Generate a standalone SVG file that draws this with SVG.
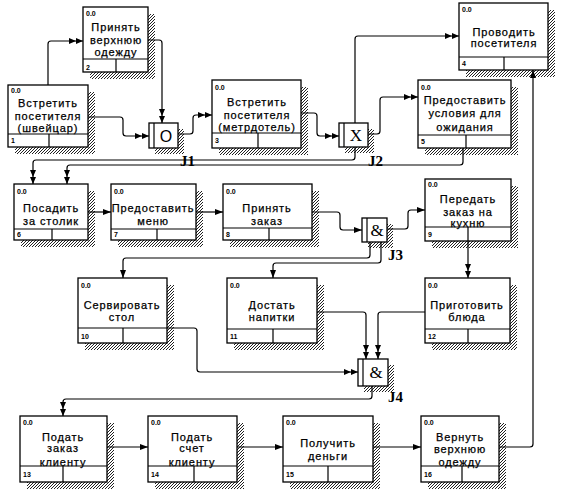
<svg xmlns="http://www.w3.org/2000/svg" width="565" height="494" viewBox="0 0 565 494">
<style>
.bx{fill:#fff;stroke:#000;stroke-width:1.3}
.sh{fill:url(#hatch)}
.ln{fill:none;stroke:#000;stroke-width:1.2}
.t{font-family:"Liberation Sans",Arial,sans-serif;font-size:11px;letter-spacing:0.9px;text-anchor:middle;fill:#000;stroke:#000;stroke-width:0.25}
.s{font-family:"Liberation Sans",Arial,sans-serif;font-size:7px;font-weight:bold;fill:#000}
.js{font-family:"Liberation Serif","Times New Roman",serif;font-size:17px;text-anchor:middle;fill:#000}
.jl{font-family:"Liberation Serif","Times New Roman",serif;font-size:15px;font-weight:bold;fill:#000}
.c{fill:none;stroke:#000;stroke-width:1.2}
</style>
<defs>
<pattern id="hatch" width="3" height="3" patternUnits="userSpaceOnUse">
<rect width="3" height="3" fill="#fff"/>
<path d="M0,3 L3,0" stroke="#222" stroke-width="1"/>
</pattern>
<marker id="a1" viewBox="0 0 8 6" refX="8" refY="3" markerWidth="8" markerHeight="6" markerUnits="userSpaceOnUse" orient="auto">
<path d="M0,0 L8,3 L0,6 z" fill="#000"/>
</marker>
<marker id="a2" viewBox="0 0 14 6" refX="14" refY="3" markerWidth="14" markerHeight="6" markerUnits="userSpaceOnUse" orient="auto">
<path d="M0,0 L7,3 L0,6 z M7,0 L14,3 L7,6 z" fill="#000"/>
</marker>
</defs>
<rect width="565" height="494" fill="#fff"/>

<g id="n1">
<rect class="sh" x="15" y="92" width="80" height="62"/>
<rect class="bx" x="8" y="85" width="80" height="62"/>
<path class="ln" d="M8,134 H88 M49,134 V147"/>
<text class="s" x="11" y="93">0.0</text>
<text class="s" x="11" y="143">1</text>
<text class="t" x="48" y="107">Встретить</text>
<text class="t" x="48" y="120">посетителя</text>
<text class="t" x="48" y="132">(швейцар)</text>
</g>

<g id="n2">
<rect class="sh" x="90" y="14" width="65" height="65"/>
<rect class="bx" x="83" y="7" width="65" height="65"/>
<path class="ln" d="M83,59 H148 M116,59 V72"/>
<text class="s" x="86" y="16">0.0</text>
<text class="s" x="86" y="70">2</text>
<text class="t" x="116" y="31">Принять</text>
<text class="t" x="116" y="44">верхнюю</text>
<text class="t" x="116" y="56">одежду</text>
</g>

<g id="n3">
<rect class="sh" x="219" y="87" width="89" height="68"/>
<rect class="bx" x="212" y="80" width="89" height="68"/>
<path class="ln" d="M212,133 H301 M258,133 V148"/>
<text class="s" x="215" y="90">0.0</text>
<text class="s" x="215" y="143">3</text>
<text class="t" x="257" y="106">Встретить</text>
<text class="t" x="257" y="119">посетителя</text>
<text class="t" x="257" y="131">(метрдотель)</text>
</g>

<g id="n4">
<rect class="sh" x="466" y="10" width="89" height="67"/>
<rect class="bx" x="459" y="3" width="89" height="67"/>
<path class="ln" d="M459,57 H548 M504,57 V70"/>
<text class="s" x="462" y="12">0.0</text>
<text class="s" x="462" y="66">4</text>
<text class="t" x="504" y="36">Проводить</text>
<text class="t" x="504" y="47">посетителя</text>
</g>

<g id="n5">
<rect class="sh" x="425" y="87" width="93" height="68"/>
<rect class="bx" x="418" y="80" width="93" height="68"/>
<path class="ln" d="M418,135 H511 M466,135 V148"/>
<text class="s" x="421" y="90">0.0</text>
<text class="s" x="421" y="144">5</text>
<text class="t" x="465" y="104">Предоставить</text>
<text class="t" x="465" y="117">условия для</text>
<text class="t" x="465" y="131">ожидания</text>
</g>

<g id="n6">
<rect class="sh" x="21" y="191" width="74" height="56"/>
<rect class="bx" x="14" y="184" width="74" height="56"/>
<path class="ln" d="M14,229 H88 M52,229 V240"/>
<text class="s" x="17" y="194">0.0</text>
<text class="s" x="17" y="237">6</text>
<text class="t" x="51" y="212">Посадить</text>
<text class="t" x="51" y="225">за столик</text>
</g>

<g id="n7">
<rect class="sh" x="118" y="191" width="85" height="56"/>
<rect class="bx" x="111" y="184" width="85" height="56"/>
<path class="ln" d="M111,229 H196 M157,229 V240"/>
<text class="s" x="114" y="194">0.0</text>
<text class="s" x="114" y="237">7</text>
<text class="t" x="153" y="212">Предоставить</text>
<text class="t" x="153" y="225">меню</text>
</g>

<g id="n8">
<rect class="sh" x="230" y="191" width="89" height="56"/>
<rect class="bx" x="223" y="184" width="89" height="56"/>
<path class="ln" d="M223,228 H312 M269,228 V240"/>
<text class="s" x="226" y="194">0.0</text>
<text class="s" x="226" y="237">8</text>
<text class="t" x="267" y="212">Принять</text>
<text class="t" x="267" y="225">заказ</text>
</g>

<g id="n9">
<rect class="sh" x="432" y="186" width="86" height="62"/>
<rect class="bx" x="425" y="179" width="86" height="62"/>
<path class="ln" d="M425,227 H511 M468,227 V241"/>
<text class="s" x="428" y="187">0.0</text>
<text class="s" x="428" y="237">9</text>
<text class="t" x="468" y="203">Передать</text>
<text class="t" x="468" y="216">заказ на</text>
<text class="t" x="468" y="227">кухню</text>
</g>

<g id="n10">
<rect class="sh" x="85" y="285" width="89" height="65"/>
<rect class="bx" x="78" y="278" width="89" height="65"/>
<path class="ln" d="M78,328 H167 M123,328 V343"/>
<text class="s" x="81" y="288">0.0</text>
<text class="s" x="81" y="339">10</text>
<text class="t" x="122" y="309">Сервировать</text>
<text class="t" x="122" y="321">стол</text>
</g>

<g id="n11">
<rect class="sh" x="234" y="285" width="90" height="65"/>
<rect class="bx" x="227" y="278" width="90" height="65"/>
<path class="ln" d="M227,329 H317 M273,329 V343"/>
<text class="s" x="230" y="288">0.0</text>
<text class="s" x="230" y="339">11</text>
<text class="t" x="272" y="309">Достать</text>
<text class="t" x="272" y="321">напитки</text>
</g>

<g id="n12">
<rect class="sh" x="432" y="285" width="85" height="65"/>
<rect class="bx" x="425" y="278" width="85" height="65"/>
<path class="ln" d="M425,329 H510 M468,329 V343"/>
<text class="s" x="428" y="288">0.0</text>
<text class="s" x="428" y="339">12</text>
<text class="t" x="467" y="309">Приготовить</text>
<text class="t" x="467" y="321">блюда</text>
</g>

<g id="n13">
<rect class="sh" x="27" y="423" width="87" height="66"/>
<rect class="bx" x="20" y="416" width="87" height="66"/>
<path class="ln" d="M20,466 H107 M63,466 V482"/>
<text class="s" x="23" y="425">0.0</text>
<text class="s" x="23" y="477">13</text>
<text class="t" x="63" y="441">Подать</text>
<text class="t" x="63" y="452">заказ</text>
<text class="t" x="63" y="466">клиенту</text>
</g>

<g id="n14">
<rect class="sh" x="155" y="423" width="89" height="66"/>
<rect class="bx" x="148" y="416" width="89" height="66"/>
<path class="ln" d="M148,466 H237 M194,466 V482"/>
<text class="s" x="151" y="425">0.0</text>
<text class="s" x="151" y="477">14</text>
<text class="t" x="192" y="441">Подать</text>
<text class="t" x="192" y="452">счет</text>
<text class="t" x="192" y="466">клиенту</text>
</g>

<g id="n15">
<rect class="sh" x="290" y="423" width="90" height="66"/>
<rect class="bx" x="283" y="416" width="90" height="66"/>
<path class="ln" d="M283,466 H373 M328,466 V482"/>
<text class="s" x="286" y="425">0.0</text>
<text class="s" x="286" y="477">15</text>
<text class="t" x="328" y="447">Получить</text>
<text class="t" x="328" y="460">деньги</text>
</g>

<g id="n16">
<rect class="sh" x="428" y="423" width="78" height="66"/>
<rect class="bx" x="421" y="416" width="78" height="66"/>
<path class="ln" d="M421,466 H499 M462,466 V482"/>
<text class="s" x="424" y="425">0.0</text>
<text class="s" x="424" y="477">16</text>
<text class="t" x="460" y="441">Вернуть</text>
<text class="t" x="460" y="453">верхнюю</text>
<text class="t" x="460" y="466">одежду</text>
</g>

<g id="j1">
<rect class="sh" x="155" y="129" width="29" height="25"/>
<rect class="bx" x="149" y="123" width="29" height="25"/>
<path class="ln" d="M154,123 V148"/>
<text class="js" x="166" y="142" style="font-family:'Liberation Sans',Arial,sans-serif;font-size:16px">O</text>
<text class="jl" x="180" y="166">J1</text>
</g>

<g id="j2">
<rect class="sh" x="345" y="129" width="29" height="24"/>
<rect class="bx" x="339" y="123" width="29" height="24"/>
<path class="ln" d="M344,123 V147"/>
<text class="js" x="356" y="141">X</text>
<text class="jl" x="368" y="166">J2</text>
</g>

<g id="j3">
<rect class="sh" x="368" y="224" width="25" height="24"/>
<rect class="bx" x="362" y="218" width="25" height="24"/>
<path class="ln" d="M367,218 V242"/>
<text class="js" x="377" y="236">&amp;</text>
<text class="jl" x="388" y="260">J3</text>
</g>

<g id="j4">
<rect class="sh" x="364" y="365" width="30" height="27"/>
<rect class="bx" x="358" y="359" width="30" height="27"/>
<path class="ln" d="M363,359 V386"/>
<text class="js" x="376" y="378">&amp;</text>
<text class="jl" x="388" y="402">J4</text>
</g>

<g id="connectors">
<path class="c" marker-end="url(#a2)" d="M48,85 V44 Q48,41 51,41 H83"/>
<path class="c" marker-end="url(#a2)" d="M148,40 H159 Q162,40 162,43 V123"/>
<path class="c" marker-end="url(#a2)" d="M88,117 H120 Q123,117 123,120 V133 Q123,136 126,136 H149"/>
<path class="c" marker-end="url(#a2)" d="M178,134 H190 Q193,134 193,131 V118 Q193,115 196,115 H212"/>
<path class="c" marker-end="url(#a2)" d="M301,113 H314 Q317,113 317,116 V133 Q317,136 320,136 H339"/>
<path class="c" marker-end="url(#a2)" d="M355,123 V39 Q355,36 358,36 H459"/>
<path class="c" marker-end="url(#a2)" d="M368,134 H377 Q380,134 380,131 V100 Q380,97 383,97 H418"/>
<path class="c" marker-end="url(#a2)" d="M355,147 V157 Q355,160 352,160 H36 Q33,160 33,163 V184"/>
<path class="c" marker-end="url(#a2)" d="M463,148 V162 Q463,165 460,165 H70 Q67,165 67,168 V184"/>
<path class="c" marker-end="url(#a1)" d="M88,212 H111"/>
<path class="c" marker-end="url(#a1)" d="M196,212 H223"/>
<path class="c" marker-end="url(#a1)" d="M312,212 H337 Q340,212 340,215 V227 Q340,230 343,230 H362"/>
<path class="c" marker-end="url(#a1)" d="M387,229 H405 Q408,229 408,226 V213 Q408,210 411,210 H425"/>
<path class="c" marker-end="url(#a1)" d="M370,242 V255 Q370,258 367,258 H126 Q123,258 123,261 V278"/>
<path class="c" marker-end="url(#a1)" d="M381,242 V260 Q381,263 378,263 H276 Q273,263 273,266 V278"/>
<path class="c" marker-end="url(#a2)" d="M468,241 V278"/>
<path class="c" marker-end="url(#a2)" d="M167,328 H194 Q197,328 197,331 V369 Q197,372 200,372 H358"/>
<path class="c" marker-end="url(#a2)" d="M317,312 H363 Q366,312 366,315 V359"/>
<path class="c" marker-end="url(#a2)" d="M425,312 H381 Q378,312 378,315 V359"/>
<path class="c" marker-end="url(#a2)" d="M372,386 V396 Q372,399 369,399 H66 Q63,399 63,402 V416"/>
<path class="c" marker-end="url(#a1)" d="M107,447 H148"/>
<path class="c" marker-end="url(#a1)" d="M237,447 H283"/>
<path class="c" marker-end="url(#a1)" d="M373,447 H421"/>
<path class="c" marker-end="url(#a1)" d="M499,447 H530 Q533,447 533,444 V70"/>
</g>
</svg>
